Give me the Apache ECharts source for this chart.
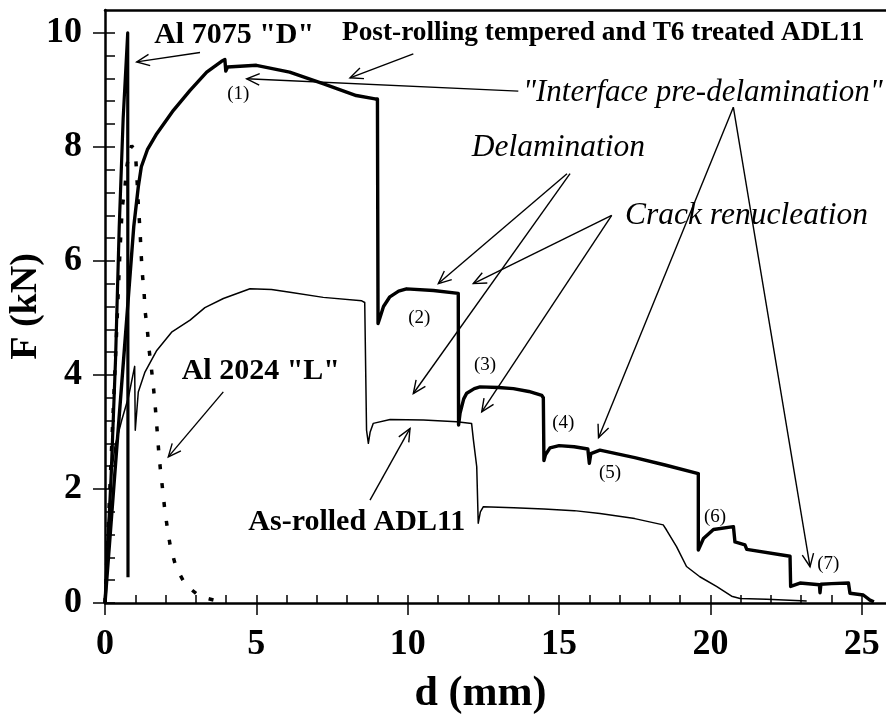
<!DOCTYPE html>
<html>
<head>
<meta charset="utf-8">
<script src="https://cdn.jsdelivr.net/npm/echarts@6/dist/echarts.min.js"></script>
<style>
  html, body { margin: 0; padding: 0; background: #fff; }
  #chart { width: 886px; height: 720px; }
</style>
</head>
<body>
<div id="chart"></div>
<script>
// Load–displacement curves, d in mm and F in kN
const al7075 = [[0,0],[0.2,2.2],[0.35,4.3],[0.47,6.6],[0.6,8.5],[0.75,10.0],[0.76,0.45]];

const al2024 = [[0,0],[0.2,2.5],[0.39,4.84],[0.5,6.24],[0.57,6.94],[0.66,7.3],[0.72,7.65],[0.8,7.9],
  [0.88,8.02],[0.95,7.96],[1.01,7.85],[1.05,7.5],[1.1,7.0],[1.16,6.5],[1.19,6.16],[1.23,5.8],[1.29,5.45],
  [1.33,5.1],[1.4,4.78],[1.46,4.43],[1.54,4.08],[1.61,3.73],[1.67,3.38],[1.72,3.04],[1.77,2.69],
  [1.83,2.34],[1.9,2.01],[1.97,1.66],[2.06,1.31],[2.16,0.99],[2.35,0.62],[2.66,0.32],[3.14,0.11],[3.72,0.035]];

const t6Adl11 = [[0,0],[0.4,2.8],[0.72,5.0],[0.95,6.6],[1.1,7.3],[1.2,7.65],[1.4,7.95],[1.71,8.23],
  [2.26,8.64],[2.81,8.99],[3.36,9.31],[3.85,9.5],[3.96,9.53],[3.99,9.33],[4.05,9.4],[5.0,9.43],
  [6.1,9.31],[7.2,9.11],[8.3,8.9],[8.92,8.84],[9.0,8.84],[9.02,4.9],[9.08,5.0],[9.2,5.2],[9.41,5.37],
  [9.7,5.47],[9.96,5.51],[10.85,5.48],[11.67,5.43],[11.68,3.12],[11.73,3.33],[11.85,3.58],[11.95,3.68],
  [12.2,3.76],[12.39,3.79],[13.0,3.78],[13.49,3.76],[14.0,3.71],[14.43,3.64],[14.48,3.6],[14.5,2.5],
  [14.55,2.6],[14.7,2.72],[15.0,2.76],[15.5,2.74],[15.95,2.7],[16.0,2.45],[16.05,2.62],[16.35,2.68],
  [17.5,2.55],[18.5,2.42],[19.6,2.27],[19.6,0.93],[19.77,1.13],[20.1,1.29],[20.76,1.34],[20.81,1.07],
  [21.14,1.02],[21.2,0.94],[22.63,0.82],[22.65,0.29],[22.96,0.35],[23.6,0.32],[23.62,0.18],[23.65,0.33],
  [24.0,0.34],[24.56,0.35],[24.61,0.17],[25.05,0.14],[25.27,0.05],[25.4,0.02]];

const asRolledAdl11 = [[0,0],[0.1,1.3],[0.2,2.2],[0.33,2.75],[0.55,3.2],[0.77,3.6],[0.98,4.15],[1.0,3.03],
  [1.1,3.7],[1.32,4.05],[1.71,4.43],[2.2,4.75],[2.81,4.96],[3.3,5.18],[3.91,5.34],[4.79,5.51],[5.5,5.5],
  [6.11,5.45],[7.21,5.36],[8.48,5.3],[8.58,5.27],[8.64,3.03],[8.7,2.8],[8.76,3.0],[8.86,3.15],[9.42,3.22],
  [10.52,3.21],[11.62,3.18],[12.11,3.15],[12.17,2.86],[12.28,2.39],[12.33,1.4],[12.4,1.6],[12.5,1.69],
  [13.5,1.67],[14.5,1.65],[15.5,1.62],[16.35,1.57],[17.5,1.48],[18.44,1.37],[18.55,1.28],[18.88,0.99],
  [19.21,0.64],[19.65,0.46],[20.2,0.29],[20.7,0.12],[20.98,0.08],[21.86,0.065],[23.18,0.035]];

// Axis ticks and labels
const xTicks = [0, 5, 10, 15, 20, 25];
const yTicks = [0, 2, 4, 6, 8, 10];
const X_MAX = 25.8, Y_MAX = 10.4;
const xMinor = [];
for (let v = 0; v <= 25; v += 1) xMinor.push(v);
const yMinor = [];
for (let i = 0; i <= 25; i++) yMinor.push(+(i * 0.4).toFixed(1));

// Annotation texts placed in data coordinates [d, F]
const noteText = ['Al 7075 "D"', 'Post-rolling tempered and T6 treated ADL11', '"Interface pre-delamination"',
  'Delamination', 'Crack renucleation', 'Al 2024 "L"', 'As-rolled ADL11'];
const noteAt = [[1.625, 9.953], [7.83, 10.0], [13.808, 8.94], [12.116, 7.98], [17.178, 6.8],
  [2.534, 4.07], [4.734, 1.411]];
const noteFont = ['bold 30px', 'bold 27.3px', 'italic 31px', 'italic 31.5px', 'italic 31.5px', 'bold 30px', 'bold 30px'];

// Stage markers
const stageText = ['(1)', '(2)', '(3)', '(4)', '(5)', '(6)', '(7)'];
const stageAt = [[4.404, 8.931], [10.384, 5.006], [12.555, 4.17], [15.141, 3.149], [16.684, 2.273],
  [20.152, 1.511], [23.895, 0.683]];

// Arrows: [fromD, fromF, toD, toF]
const arrows = [
  [3.138, 9.655, 1.047, 9.49],
  [10.185, 9.632, 8.094, 9.211],
  [13.654, 8.977, 4.681, 9.194],
  [20.757, 8.696, 16.303, 2.9],
  [20.757, 8.696, 23.29, 0.636],
  [15.262, 7.529, 11.011, 5.602],
  [15.362, 7.529, 10.185, 3.674],
  [16.739, 6.799, 12.167, 5.602],
  [16.739, 6.799, 12.445, 3.352],
  [3.908, 3.703, 2.091, 2.563],
  [8.755, 1.805, 10.076, 3.061]
];

const SERIF = "'Liberation Serif','Times New Roman',serif";
const INK = '#000';

function arrowItem(params, api) {
  const p1 = api.coord([api.value(0), api.value(1)]);
  const p2 = api.coord([api.value(2), api.value(3)]);
  const ang = Math.atan2(p1[1] - p2[1], p1[0] - p2[0]);
  const L = 14, A = 0.42;
  const h1 = [p2[0] + L * Math.cos(ang + A), p2[1] + L * Math.sin(ang + A)];
  const h2 = [p2[0] + L * Math.cos(ang - A), p2[1] + L * Math.sin(ang - A)];
  return {
    type: 'group',
    children: [
      { type: 'line', shape: { x1: p1[0], y1: p1[1], x2: p2[0], y2: p2[1] }, style: { stroke: INK, lineWidth: 1.4 } },
      { type: 'polyline', shape: { points: [h1, p2, h2] }, style: { stroke: INK, lineWidth: 1.4, fill: null } }
    ]
  };
}

function noteItem(params, api) {
  const p = api.coord([api.value(0), api.value(1)]);
  return {
    type: 'text', x: p[0], y: p[1],
    style: { text: noteText[params.dataIndex], font: noteFont[params.dataIndex] + ' ' + SERIF,
      fill: INK, align: 'left', verticalAlign: 'middle' }
  };
}

function stageItem(params, api) {
  const p = api.coord([api.value(0), api.value(1)]);
  return {
    type: 'text', x: p[0], y: p[1],
    style: { text: stageText[params.dataIndex], font: '19px ' + SERIF,
      fill: INK, align: 'center', verticalAlign: 'middle' }
  };
}

const tickLabel = { fontFamily: SERIF, fontWeight: 'bold', fontSize: 36, color: INK };
const base = (max) => ({ type: 'value', min: 0, max: max, splitLine: { show: false } });

const option = {
  animation: false,
  backgroundColor: '#fff',
  grid: { left: 105, right: 0, top: 10, bottom: 117, containLabel: false, outerBoundsMode: 'none' },
  xAxis: [
    Object.assign(base(X_MAX), {
      position: 'bottom',
      axisLine: { onZero: false, lineStyle: { color: INK, width: 2.5 } },
      axisTick: { customValues: xTicks, inside: true, length: 8, lineStyle: { color: INK, width: 1.5 } },
      axisLabel: Object.assign({ customValues: xTicks, margin: 24 }, tickLabel),
      name: 'd (mm)', nameLocation: 'middle', nameGap: 70, nameMoveOverlap: false,
      nameTextStyle: { fontFamily: SERIF, fontWeight: 'bold', fontSize: 42, color: INK, padding: [0, 30, 0, 0] }
    }),
    Object.assign(base(X_MAX), {
      position: 'bottom',
      axisLine: { show: false, onZero: false },
      axisTick: { customValues: xTicks, inside: false, length: 12, lineStyle: { color: INK, width: 1.5 } },
      axisLabel: { show: false }
    }),
    Object.assign(base(X_MAX), {
      position: 'bottom',
      axisLine: { show: false, onZero: false },
      axisTick: { customValues: xMinor, inside: true, length: 8, lineStyle: { color: INK, width: 1.5 } },
      axisLabel: { show: false }
    }),
    Object.assign(base(X_MAX), {
      position: 'top',
      axisLine: { onZero: false, lineStyle: { color: INK, width: 2.5 } },
      axisTick: { show: false },
      axisLabel: { show: false }
    })
  ],
  yAxis: [
    Object.assign(base(Y_MAX), {
      position: 'left',
      axisLine: { show: true, onZero: false, lineStyle: { color: INK, width: 2.5 } },
      axisTick: { customValues: yTicks, inside: true, length: 10, lineStyle: { color: INK, width: 1.5 } },
      axisLabel: Object.assign({ customValues: yTicks, margin: 23 }, tickLabel),
      name: 'F (kN)', nameLocation: 'middle', nameGap: 60, nameRotate: 90, nameMoveOverlap: false,
      nameTextStyle: { fontFamily: SERIF, fontWeight: 'bold', fontSize: 38, color: INK }
    }),
    Object.assign(base(Y_MAX), {
      position: 'left',
      axisLine: { show: false, onZero: false },
      axisTick: { customValues: yTicks, inside: false, length: 12, lineStyle: { color: INK, width: 1.5 } },
      axisLabel: { show: false }
    }),
    Object.assign(base(Y_MAX), {
      position: 'left',
      axisLine: { show: false, onZero: false },
      axisTick: { customValues: yMinor, inside: true, length: 10, lineStyle: { color: INK, width: 1.5 } },
      axisLabel: { show: false }
    })
  ],
  series: [
    { name: 'As-rolled ADL11', type: 'line', data: asRolledAdl11, showSymbol: false, symbol: 'none',
      lineStyle: { color: INK, width: 1.5, join: 'round' } },
    { name: 'Al 2024 "L"', type: 'line', data: al2024, showSymbol: false, symbol: 'none',
      lineStyle: { color: INK, width: 3.5, type: [5, 14], cap: 'butt' } },
    { name: 'Al 7075 "D"', type: 'line', data: al7075, showSymbol: false, symbol: 'none',
      lineStyle: { color: INK, width: 3.2, join: 'round' } },
    { name: 'Post-rolling tempered and T6 treated ADL11', type: 'line', data: t6Adl11, showSymbol: false,
      symbol: 'none', lineStyle: { color: INK, width: 3.4, join: 'round' } },
    { type: 'custom', renderItem: arrowItem, data: arrows, clip: false, silent: true,
      encode: { x: [0, 2], y: [1, 3] }, z: 5 },
    { type: 'custom', renderItem: noteItem, data: noteAt, clip: false, silent: true, z: 5 },
    { type: 'custom', renderItem: stageItem, data: stageAt, clip: false, silent: true, z: 5 }
  ]
};

const chart = echarts.init(document.getElementById('chart'));
chart.setOption(option);
</script>
</body>
</html>
